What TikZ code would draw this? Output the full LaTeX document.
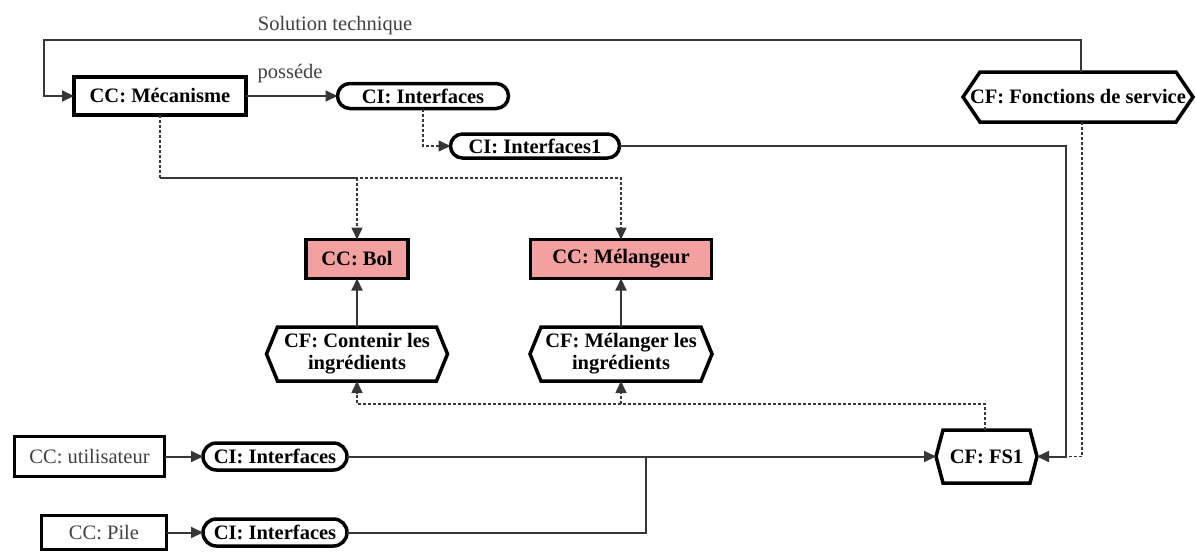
\documentclass[tikz,border=0pt]{standalone}
\usepackage{fontspec}
\setmainfont{Liberation Serif}
\usetikzlibrary{arrows.meta,shapes.misc,calc}
\definecolor{ccpink}{RGB}{242,160,160}
\definecolor{wire}{RGB}{55,55,55}

\begin{document}
\begin{tikzpicture}[x=1pt,y=-1pt,
  every node/.style={font=\fontsize{20.5}{22}\selectfont, inner sep=1pt, outer sep=0pt},
  ccbox/.style={draw, line width=3.5pt, rectangle, font=\fontsize{20.5}{22}\selectfont\bfseries},
  ccplain/.style={draw, line width=3.5pt, rectangle, text=black!75},
  cibox/.style={draw, line width=3.5pt, rounded rectangle, font=\fontsize{20.5}{22}\selectfont\bfseries},
  cfbox/.style={rectangle, align=center, font=\fontsize{20.5}{22}\selectfont\bfseries},
  hexborder/.style={line width=3.5pt, line join=miter},
  wireline/.style={draw=wire, line width=2pt},
  dashwire/.style={draw=wire, line width=1.6pt, dash pattern=on 3pt off 2pt},
  arr/.style={-{Triangle[length=12pt,width=11pt]}},
  lbl/.style={text=black!75},
]
\useasboundingbox (0,0) rectangle (1196,552);

% component blocks
\node[ccbox, minimum width=172pt, minimum height=38pt] (meca) at (160,96) {CC: Mécanisme};
\node[cibox, minimum width=173pt, minimum height=25pt] (ciA) at (423,96) {CI: Interfaces};
\node[cibox, minimum width=171pt, minimum height=24pt] (ciB) at (535,146) {CI: Interfaces1};
\node[cfbox, minimum width=230pt, minimum height=50pt] (fonc) at (1078,97) {CF: Fonctions de service};

\node[ccbox, fill=ccpink, minimum width=102pt, minimum height=39pt] (bol) at (357,259) {CC: Bol};
\node[ccbox, fill=ccpink, minimum width=181pt, minimum height=39pt] (mel) at (621,259) {CC: Mélangeur};
\node[cfbox, minimum width=181pt, minimum height=54pt] (cont) at (357,354) {CF: Contenir les\\ingrédients};
\node[cfbox, minimum width=182pt, minimum height=54pt] (melg) at (621,354) {CF: Mélanger les\\ingrédients};

\node[cfbox, minimum width=101pt, minimum height=53pt] (fs1) at (986.5,456.5) {CF: FS1};
\node[ccplain, minimum width=150pt, minimum height=40pt] (util) at (89.5,456.5) {CC: utilisateur};
\node[cibox, minimum width=146pt, minimum height=27pt] (ciU) at (275,456.5) {CI: Interfaces};
\node[ccplain, minimum width=125pt, minimum height=34pt] (pile) at (104,532.5) {CC: Pile};
\node[cibox, minimum width=146pt, minimum height=27pt] (ciP) at (275,532.5) {CI: Interfaces};

% hexagonal outlines of the function nodes
\foreach \n/\d in {fonc/17,cont/11,melg/11,fs1/7}
  \draw[hexborder] ([xshift=\d pt]\n.north west) -- ([xshift=-\d pt]\n.north east)
    -- (\n.east) -- ([xshift=-\d pt]\n.south east) -- ([xshift=\d pt]\n.south west)
    -- (\n.west) -- cycle;

% labels
\node[lbl] (soltech) at (335,26) {Solution technique};
\node[lbl] (possede) at (290,74) {posséde};

% rails and junctions
\coordinate (toprail) at (44,40);
\coordinate (mrail) at (0,178);
\coordinate (brail) at (0,404);
\coordinate (rjoin) at (1066,456.5);
\coordinate (pjoin) at (646,456.5);

% connectors
\draw[wireline, arr] ([xshift=3pt]fonc.north) |- (toprail) |- (meca.west);
\draw[wireline, arr] (meca.east) -- (meca.east -| ciA.west);
\draw[dashwire, arr] (ciA.south) |- (ciB.west);
\draw[wireline, arr] (ciB.east) -| (rjoin) -- (fs1.east);
\draw[dashwire] ([xshift=4pt]fonc.south) |- (rjoin);

\draw[dashwire, arr] (meca.south) -- (meca.south |- mrail) -| (bol.north);
\draw[dashwire, arr] (meca.south |- mrail) -| (mel.north);
\draw[wireline, arr] (cont.north) -- (bol.south);
\draw[wireline, arr] (melg.north) -- (mel.south);

\draw[dashwire, arr] ([xshift=-1.5pt]fs1.north) -- ([xshift=-1.5pt]fs1.north |- brail) -| (cont.south);
\draw[dashwire, arr] (melg.south |- brail) -- (melg.south);

\draw[wireline, arr] (util.east) -- (ciU.west);
\draw[wireline, arr] (pile.east) -- (ciP.west);
\draw[wireline, arr] (ciU.east) -- (fs1.west);
\draw[wireline] (ciP.east) -| (pjoin);
\end{tikzpicture}
\end{document}
